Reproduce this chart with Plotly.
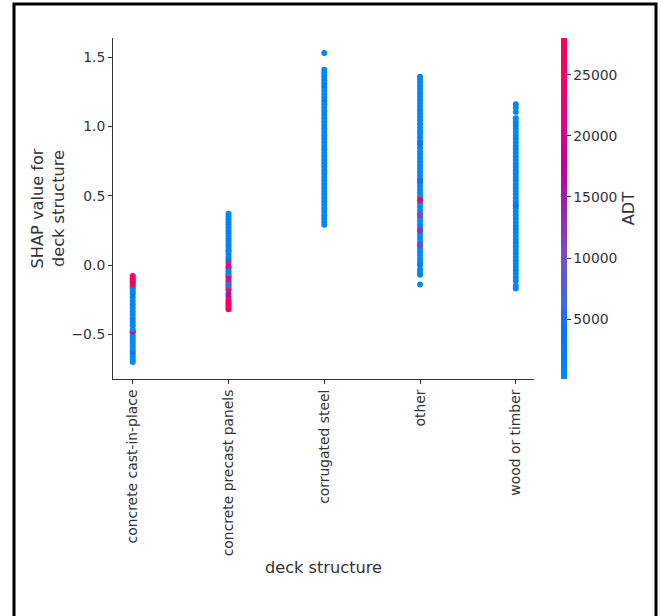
import plotly.graph_objects as go

# ---------------- data ----------------
categories = ["concrete cast-in-place", "concrete precast panels",
              "corrugated steel", "other", "wood or timber"]

cip_shap = [-0.70, -0.685, -0.665, -0.645, -0.625, -0.605, -0.585, -0.565, -0.545, -0.525,
            -0.505, -0.485, -0.435, -0.41, -0.385, -0.36, -0.335, -0.31, -0.285,
            -0.26, -0.235, -0.21, -0.19, -0.17, -0.155,
            -0.478, -0.462,
            -0.08, -0.095, -0.11, -0.125, -0.14]
cip_adt = [420, 610, 380, 900, 4200, 520, 700, 350, 1100, 480,
           650, 900, 760, 540, 1300, 460, 820, 390, 1050,
           580, 700, 3600, 950, 1400, 800,
           23000, 300,
           26500, 27500, 25000, 24000, 27000]

cpp_shap = [0.095,
            0.37, 0.35, 0.33, 0.31, 0.29, 0.27, 0.25, 0.23, 0.21, 0.19,
            0.17, 0.15, 0.13, 0.11, 0.075, 0.055, 0.035,
            0.015, -0.01, -0.025, -0.075, -0.09, -0.11, -0.125, -0.165, -0.18,
            -0.205, -0.225, -0.25, -0.265, -0.28, -0.295, -0.31, -0.32,
            -0.045, -0.06, -0.14, -0.15]
cpp_adt = [26000,
           350, 520, 800, 410, 1200, 600, 450, 950, 300, 700,
           1500, 520, 880, 640, 1100, 400, 2600,
           12000, 26000, 21000, 25000, 27000, 22000, 13000, 12500, 26000,
           14000, 15500, 25000, 27000, 25500, 26500, 27500, 26000,
           1600, 900, 6000, 7500]

cs_shap = [1.53, 1.41, 1.39, 1.37, 1.35, 1.33, 1.31,
           1.285, 1.26, 1.235, 1.21, 1.185, 1.16, 1.135, 1.11, 1.085, 1.06,
           1.035, 1.01, 0.985, 0.96, 0.935, 0.91, 0.885, 0.86, 0.835, 0.81,
           0.785, 0.76, 0.735, 0.71, 0.685, 0.66, 0.635, 0.61, 0.585, 0.56,
           0.535, 0.51, 0.485, 0.46, 0.435, 0.41, 0.385, 0.36, 0.335, 0.31, 0.29]
cs_adt = [900, 450, 620, 380, 1100, 540, 700, 2900, 460, 830,
          350, 2600, 590, 720, 410, 980, 530, 640, 300, 870,
          1200, 450, 560, 760, 390, 1000, 620, 480, 720, 350,
          910, 560, 430, 1300, 680, 520, 390, 840, 610, 470,
          1150, 330, 760, 580, 440, 920, 510, 680]

oth_shap = [1.36, 1.34, 1.32,
            1.295, 1.27, 1.245, 1.22, 1.195, 1.17, 1.145, 1.12, 1.095, 1.07,
            1.045, 1.02, 0.995, 0.97, 0.945, 0.92, 0.895, 0.87, 0.845, 0.82,
            0.795, 0.77, 0.745, 0.72, 0.695, 0.67, 0.645, 0.62, 0.595, 0.57,
            0.545, 0.52, 0.495, 0.47, 0.445, 0.42, 0.395, 0.37, 0.345, 0.32,
            0.295, 0.27, 0.245, 0.22, 0.195, 0.17, 0.145, 0.12, 0.095, 0.07,
            0.045, 0.02, 0.0, -0.03, -0.05, -0.07, -0.14,
            0.88, 0.61, 0.36, 0.25, 0.145, 0.47]
oth_adt = [620, 410, 880, 350, 700, 540, 1200, 460, 790, 330,
           1020, 580, 690, 420, 950, 510, 760, 380, 1300, 600,
           470, 840, 360, 720, 560, 1100, 430, 650, 900, 520,
           390, 1150, 610, 480, 830, 340, 700, 1250, 550, 440,
           980, 370, 660, 520, 1400, 450, 780, 590, 320, 870,
           640, 1050, 410, 560, 730, 2800, 490, 900, 620, 380,
           4800, 5200, 10500, 12500, 11000, 27500]

wt_shap = [1.16, 1.135, 1.105,
           1.06, 1.035, 1.01, 0.985, 0.96, 0.935, 0.91, 0.885, 0.86, 0.835,
           0.81, 0.785, 0.76, 0.735, 0.71, 0.685, 0.66, 0.635, 0.61, 0.585,
           0.56, 0.535, 0.51, 0.485, 0.46, 0.435, 0.41, 0.385, 0.36, 0.335,
           0.31, 0.285, 0.26, 0.235, 0.21, 0.185, 0.16, 0.135, 0.11, 0.085,
           0.06, 0.035, 0.01, -0.015, -0.04, -0.065, -0.09, -0.115,
           -0.15, -0.17, 0.43]
wt_adt = [540, 820, 430,
          690, 380, 1020, 510, 760, 330, 900, 620, 450, 1150,
          570, 410, 830, 360, 700, 980, 480, 640, 1250, 390,
          560, 870, 440, 720, 600, 1050, 350, 790, 520, 940,
          460, 680, 1300, 400, 750, 580, 1100, 420, 660, 890,
          510, 370, 820, 640, 990, 450, 720, 560,
          610, 480, 3600]

ADT_MIN = 100
ADT_MAX = 28000
y_ticks = [-0.5, 0.0, 0.5, 1.0, 1.5]
adt_ticks = [5000, 10000, 15000, 20000, 25000]

# ---------------- build ----------------
groups = [(categories[0], cip_shap, cip_adt), (categories[1], cpp_shap, cpp_adt),
          (categories[2], cs_shap, cs_adt), (categories[3], oth_shap, oth_adt),
          (categories[4], wt_shap, wt_adt)]
xs, ys, cs = [], [], []
for cat, sv, av in groups:
    xs += [cat] * len(sv)
    ys += sv
    cs += av

red_blue = [
    [0.0, "rgb(0,138,250)"], [0.125, "rgb(0,120,243)"], [0.25, "rgb(75,99,227)"],
    [0.375, "rgb(125,73,203)"], [0.5, "rgb(155,36,173)"], [0.625, "rgb(194,0,156)"],
    [0.75, "rgb(224,0,134)"], [0.875, "rgb(245,0,108)"], [1.0, "rgb(255,0,82)"],
]

FONT = "DejaVu Sans"
GRAY = "#333333"
TICK = 13.9
TITLE = 16.2
W, H = 661, 616
L, R, T, B = 113, 127, 38, 237
pw, ph = W - L - R, H - T - B

fig = go.Figure(go.Scatter(
    x=xs, y=ys, mode="markers",
    marker=dict(
        size=6, color=cs, colorscale=red_blue, cmin=ADT_MIN, cmax=ADT_MAX,
        line=dict(width=0), opacity=1,
        colorbar=dict(
            thickness=6, len=1.0, lenmode="fraction",
            x=(561 - L) / pw, xanchor="left", xpad=0,
            y=0.5, yanchor="middle", ypad=0,
            outlinewidth=0, ticks="outside", ticklen=4, tickwidth=1, tickcolor=GRAY,
            tickvals=adt_ticks, tickformat="d",
            tickfont=dict(family=FONT, size=TICK, color=GRAY),
            title=dict(text="ADT", side="right",
                       font=dict(family=FONT, size=TITLE, color=GRAY)),
        ),
    ),
    showlegend=False,
))

axis_common = dict(showline=True, linecolor=GRAY, linewidth=1, ticks="outside",
                   ticklen=4, tickwidth=1, tickcolor=GRAY, showgrid=False,
                   zeroline=False, mirror=False,
                   tickfont=dict(family=FONT, size=TICK, color=GRAY))

fig.update_xaxes(type="category", categoryorder="array", categoryarray=categories,
                 range=[-0.206, 4.19], tickangle=-90,
                 title=dict(text="deck structure", standoff=6,
                            font=dict(family=FONT, size=TITLE, color=GRAY)),
                 **axis_common)
fig.update_yaxes(range=[-0.823, 1.639], tickvals=y_ticks, tickformat=".1f",
                 title=dict(text="SHAP value for<br>deck structure", standoff=2,
                            font=dict(family=FONT, size=TITLE, color=GRAY)),
                 **axis_common)

# outer frame (decoration of the reference image)
fig.add_shape(type="rect", xref="paper", yref="paper",
              x0=(14 - L) / pw, x1=(656 - L) / pw,
              y0=(ph + T - 660) / ph, y1=(ph + T - 4) / ph,
              line=dict(color="black", width=3), fillcolor="rgba(0,0,0,0)")

fig.update_layout(width=W, height=H, margin=dict(l=L, r=R, t=T, b=B, autoexpand=False),
                  paper_bgcolor="white", plot_bgcolor="white",
                  font=dict(family=FONT, color=GRAY))

fig.write_html("out.html")
